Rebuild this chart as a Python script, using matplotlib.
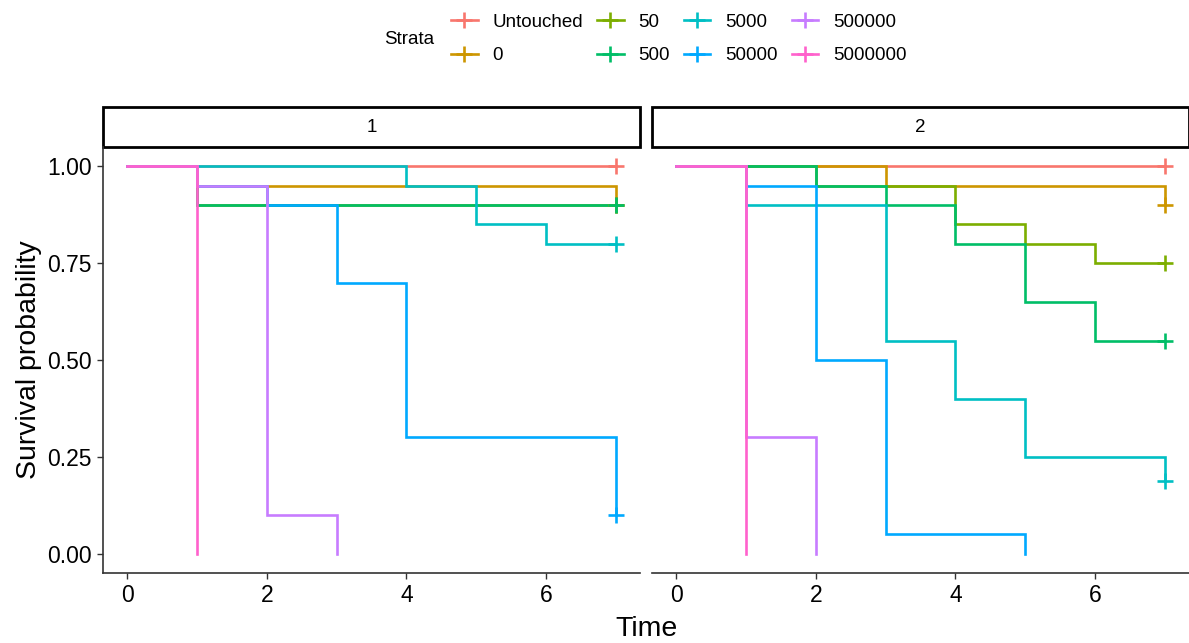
import matplotlib.pyplot as plt
from matplotlib.lines import Line2D
from matplotlib.patches import Rectangle

plt.rcParams['font.family'] = ['Liberation Sans', 'DejaVu Sans']

strata = ["Untouched", "0", "50", "500", "5000", "50000", "500000", "5000000"]
colors = ["#F8766D", "#CD9600", "#7CAE00", "#00BE67",
          "#00BFC4", "#00A9FF", "#C77CFF", "#FF61CC"]

# Kaplan-Meier steps per stratum: (times, survival, censored at the last time?)
group1 = {
    "Untouched": ([0, 7], [1.0, 1.0], True),
    "0":         ([0, 1, 7], [1.0, 0.95, 0.90], True),
    "50":        ([0, 1, 7], [1.0, 0.90, 0.90], True),
    "500":       ([0, 1, 7], [1.0, 0.90, 0.90], True),
    "5000":      ([0, 4, 5, 6, 7], [1.0, 0.95, 0.85, 0.80, 0.80], True),
    "50000":     ([0, 1, 2, 3, 4, 7], [1.0, 0.95, 0.90, 0.70, 0.30, 0.10], True),
    "500000":    ([0, 1, 2, 3], [1.0, 0.95, 0.10, 0.0], False),
    "5000000":   ([0, 1], [1.0, 0.0], False),
}
group2 = {
    "Untouched": ([0, 7], [1.0, 1.0], True),
    "0":         ([0, 3, 7], [1.0, 0.95, 0.90], True),
    "50":        ([0, 2, 4, 5, 6, 7], [1.0, 0.95, 0.85, 0.80, 0.75, 0.75], True),
    "500":       ([0, 2, 3, 4, 5, 6, 7], [1.0, 0.95, 0.90, 0.80, 0.65, 0.55, 0.55], True),
    "5000":      ([0, 1, 3, 4, 5, 7], [1.0, 0.90, 0.55, 0.40, 0.25, 0.1875], True),
    "50000":     ([0, 1, 2, 3, 5], [1.0, 0.95, 0.50, 0.05, 0.0], False),
    "500000":    ([0, 1, 2], [1.0, 0.30, 0.0], False),
    "5000000":   ([0, 1], [1.0, 0.0], False),
}
panels = [("1", group1), ("2", group2)]

W, H = 1189, 643
fig = plt.figure(figsize=(W / 100, H / 100), dpi=100)

ax_left, ax_w = [103, 652], 537
ax_bottom, ax_h = 70, 426
strip_h = 40

for i, (title, data) in enumerate(panels):
    ax = fig.add_axes([ax_left[i] / W, ax_bottom / H, ax_w / W, ax_h / H])
    for name, col in zip(strata, colors):
        t, s, cens = data[name]
        ax.step(t, s, where="post", color=col, lw=1.9, solid_joinstyle="miter")
    # censoring marks go on top of every curve
    for name, col in zip(strata, colors):
        t, s, cens = data[name]
        if cens:
            ax.plot(t[-1], s[-1], marker="+", color=col, ms=11, mew=1.9,
                    clip_on=False)

    ax.set_xlim(-0.35, 7.35)
    ax.set_ylim(-0.05, 1.05)
    ax.set_xticks([0, 2, 4, 6])
    ax.set_yticks([0, 0.25, 0.5, 0.75, 1.0])
    ax.set_yticklabels(["0.00", "0.25", "0.50", "0.75", "1.00"])
    for side in ["top", "right"]:
        ax.spines[side].set_visible(False)
    for side in ["bottom", "left"]:
        ax.spines[side].set_linewidth(1.2)
        ax.spines[side].set_color("#333333")
    ax.tick_params(labelsize=16.5, length=4.5, width=1.0, color="#333333",
                   pad=3.5, labelcolor="black")
    if i == 1:
        ax.spines["left"].set_visible(False)
        ax.tick_params(axis="y", left=False, labelleft=False)
    else:
        ax.set_ylabel("Survival probability", fontsize=20.5, labelpad=4)

    # facet strip
    ax.add_patch(Rectangle((0, 1.0), 1.0, strip_h / ax_h, transform=ax.transAxes,
                           facecolor="white", edgecolor="black", lw=2.0,
                           clip_on=False))
    ax.text(0.5, 1.0 + strip_h / ax_h / 2, title, transform=ax.transAxes,
            ha="center", va="center", fontsize=13.5)

fig.text(0.5 * (103 + 1189) / W, 14 / H, "Time", ha="center", va="center",
         fontsize=20.5)

handles = [Line2D([], [], color=c, lw=1.9, marker="+", ms=11, mew=1.9)
           for c in colors]
fig.legend(handles, strata, ncol=4, loc="center", bbox_to_anchor=(679 / W, 1 - 39 / H),
           frameon=False, fontsize=13.5, handlelength=1.4, handletextpad=0.8,
           columnspacing=0.75, labelspacing=0.85, borderpad=0)
fig.text(384 / W, 1 - 40 / H, "Strata", ha="left", va="center", fontsize=13.5)

fig.savefig("out.png", dpi=100)
